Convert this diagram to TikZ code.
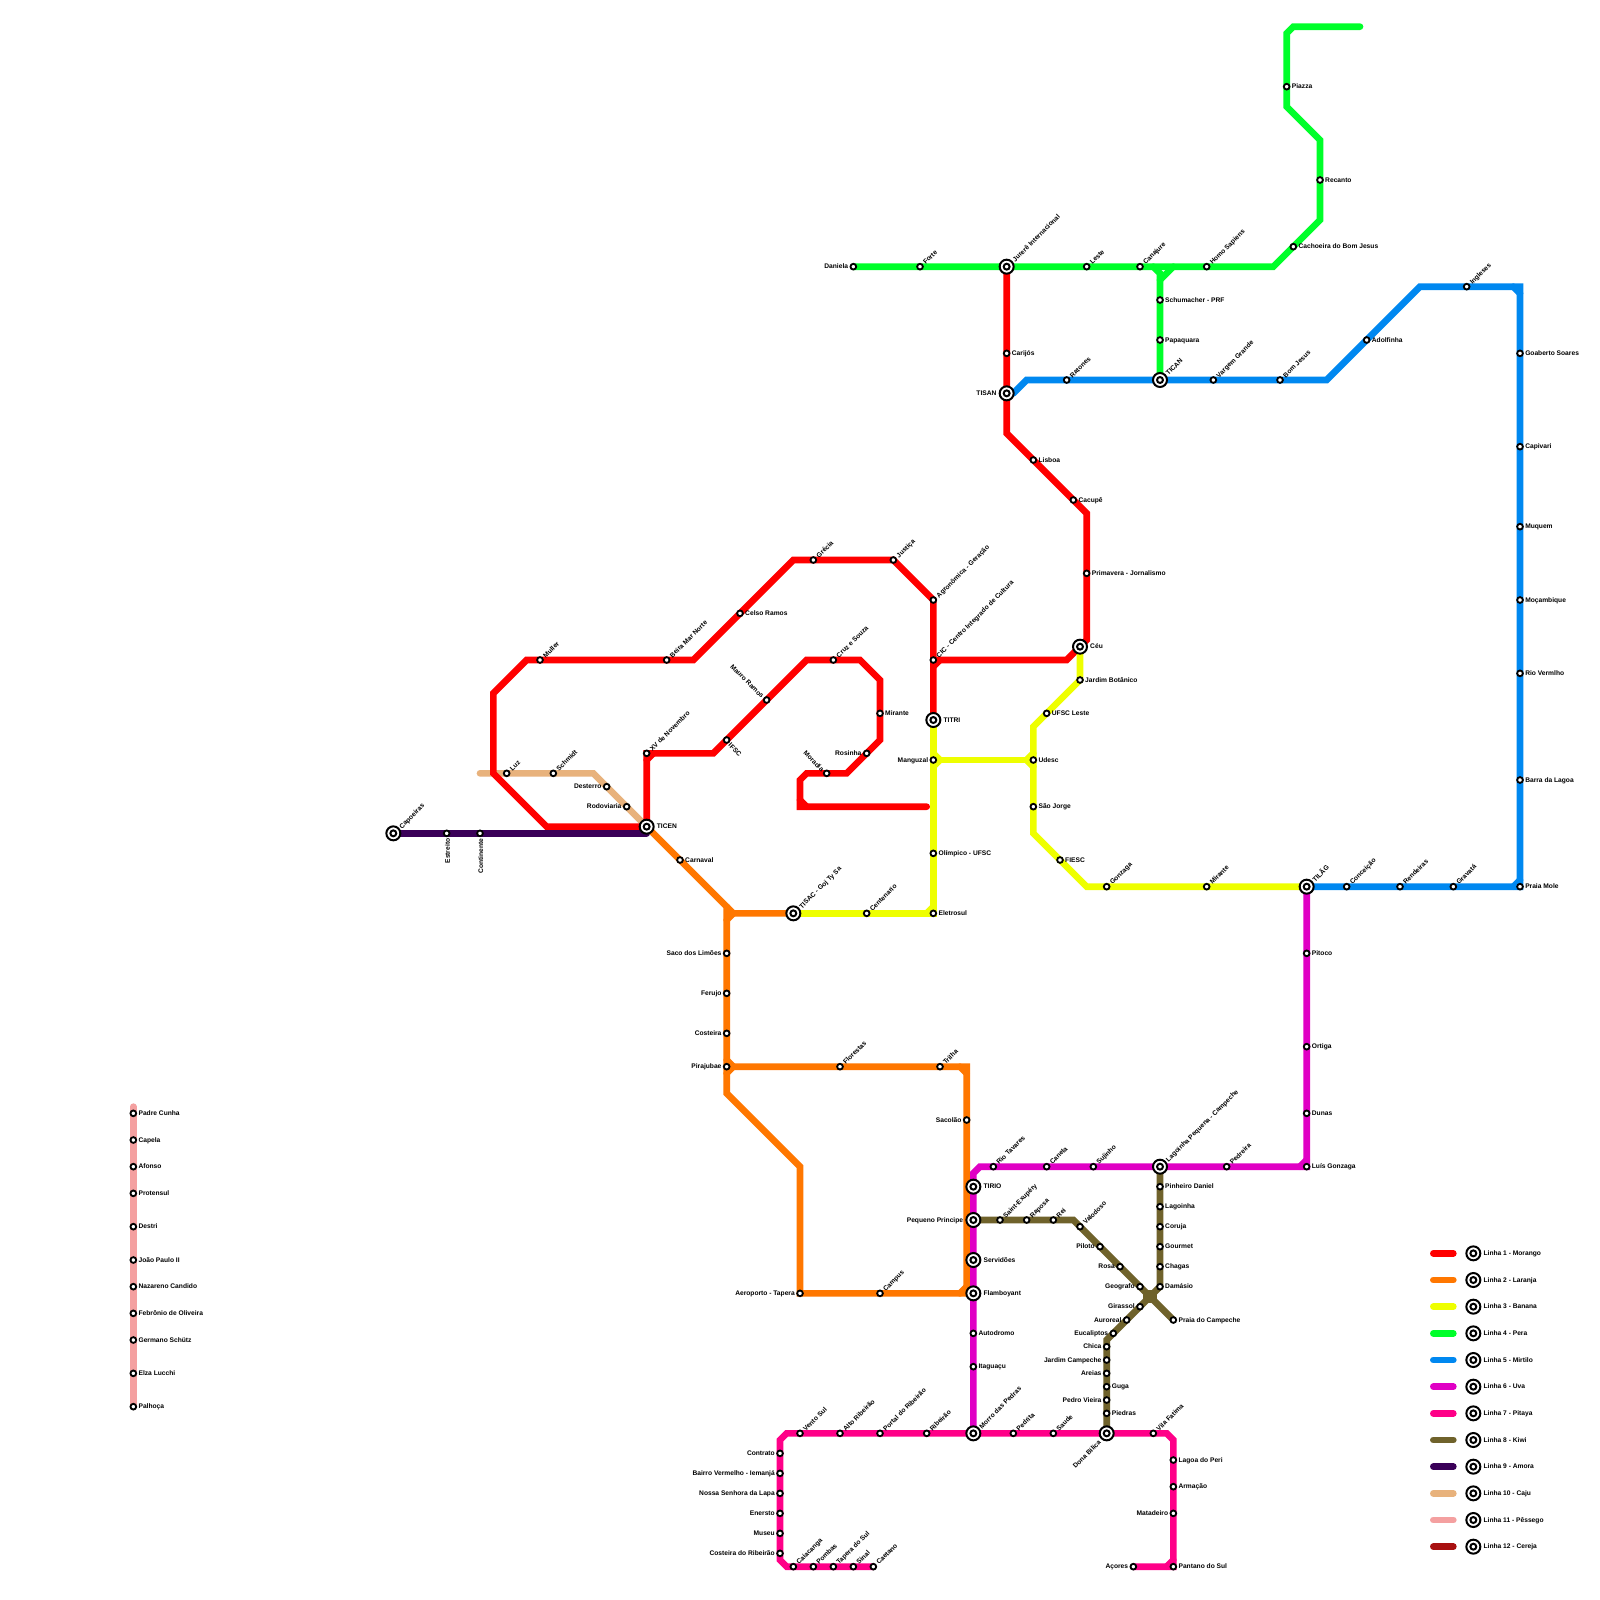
\documentclass[tikz,border=0pt]{standalone}
\usepackage{fontspec}
\setmainfont{Liberation Sans}
\usetikzlibrary{backgrounds}
\definecolor{cRed}{HTML}{FF0000}
\definecolor{cOrange}{HTML}{FF7700}
\definecolor{cYellow}{HTML}{EEFF00}
\definecolor{cGreen}{HTML}{00FF2A}
\definecolor{cBlue}{HTML}{0088F0}
\definecolor{cMag}{HTML}{E000C4}
\definecolor{cPink}{HTML}{FF0088}
\definecolor{cKiwi}{HTML}{6F622B}
\definecolor{cAmora}{HTML}{3A0058}
\definecolor{cCaju}{HTML}{E8B27C}
\definecolor{cPess}{HTML}{F4A0A0}
\definecolor{cCer}{HTML}{A81010}
\tikzset{
  metro/.style={line width=0.2cm,line cap=round,line join=miter},
  stnode/.style={circle,draw=black,fill=white,line width=0.055cm,minimum size=0.172cm,inner sep=0pt},
  hubouter/.style={circle,draw=black,fill=white,line width=0.06cm,minimum size=0.42cm,inner sep=0pt},
  hubinner/.style={circle,draw=black,fill=white,line width=0.06cm,minimum size=0.178cm,inner sep=0pt},
  lab/.style={inner sep=0pt,font=\fontsize{5.69}{6}\selectfont\bfseries,text=black},
  R/.style={xshift=0.15cm,yshift=0.03cm,anchor=mid west},
  L/.style={xshift=-0.15cm,yshift=0.03cm,anchor=mid east},
  NE/.style={xshift=0.105cm,yshift=0.115cm,rotate=45,anchor=mid west},
  NW/.style={xshift=-0.095cm,yshift=0.105cm,rotate=-45,anchor=mid east},
  SE/.style={xshift=0.105cm,yshift=-0.105cm,rotate=-45,anchor=mid west},
  S/.style={yshift=-0.15cm,rotate=90,anchor=mid east},
  HR/.style={xshift=0.3cm,yshift=0.03cm,anchor=mid west},
  HL/.style={xshift=-0.3cm,yshift=0.03cm,anchor=mid east},
  HNE/.style={xshift=0.19cm,yshift=0.19cm,rotate=45,anchor=mid west},
  HSW/.style={xshift=-0.22cm,yshift=-0.22cm,rotate=45,anchor=mid east}
}
\newcommand{\stn}[5]{\node[stnode] (#1) at (#2,#3) {};\node[lab,#4] (#1-t) at (#2,#3) {#5};}
\newcommand{\hub}[5]{\node[hubouter] (#1) at (#2,#3) {};\node[hubinner] (#1-i) at (#2,#3) {};\node[lab,#4] (#1-t) at (#2,#3) {#5};}
\newcommand{\crn}[3]{\coordinate (#1) at (#2,#3);}
\begin{document}
\begin{tikzpicture}[x=0.2cm,y=-0.2cm]
\useasboundingbox (0,0) rectangle (240,240);
% hubs
\hub{jur}{151}{40}{HNE}{Jurerê Internacional}
\hub{tisan}{151}{59}{HL}{TISAN}
\hub{tican}{174}{57}{HNE}{TICAN}
\hub{ceu}{162}{97}{HR}{Céu}
\hub{titri}{140}{108}{HR}{TITRI}
\hub{ticen}{97}{124}{HR}{TICEN}
\hub{cap}{59}{125}{HNE}{Capoeiras}
\hub{tisac}{119}{137}{HNE}{TISAC - Goj Ty Sa}
\hub{tilag}{196}{133}{HNE}{TILÃG}
\hub{lagp}{174}{175}{HNE}{Lagoinha Pequena - Campeche}
\hub{tirio}{146}{178}{HR}{TIRIO}
\hub{pequ}{146}{183}{HL}{Pequeno Principe}
\hub{serv}{146}{189}{HR}{Servidões}
\hub{flam}{146}{194}{HR}{Flamboyant}
\hub{morro}{146}{215}{HNE}{Morro das Pedras}
\hub{dona}{166}{215}{HSW}{Dona Bilica}
% line 4
\stn{dan}{128}{40}{L}{Daniela}
\stn{forte}{138}{40}{NE}{Forte}
\stn{leste}{163}{40}{NE}{Leste}
\stn{cana}{171}{40}{NE}{Canajure}
\stn{homo}{181}{40}{NE}{Homo Sapiens}
\stn{cach}{194}{37}{R}{Cachoeira do Bom Jesus}
\stn{reca}{198}{27}{R}{Recanto}
\stn{piaz}{193}{13}{R}{Piazza}
\stn{schu}{174}{45}{R}{Schumacher - PRF}
\stn{papa}{174}{51}{R}{Papaquara}
% line 1
\stn{cari}{151}{53}{R}{Carijós}
\stn{lisb}{155}{69}{R}{Lisboa}
\stn{cacu}{161}{75}{R}{Cacupê}
\stn{prim}{163}{86}{R}{Primavera - Jornalismo}
\stn{cic}{140}{99}{NE}{CIC - Centro Integrado de Cultura}
\stn{agro}{140}{90}{NE}{Agronômica - Geração}
\stn{just}{134}{84}{NE}{Justiça}
\stn{grec}{122}{84}{NE}{Grécia}
\stn{cels}{111}{92}{R}{Celso Ramos}
\stn{beir}{100}{99}{NE}{Beira Mar Norte}
\stn{mull}{81}{99}{NE}{Muller}
\stn{xv}{97}{113}{NE}{XV de Novembro}
\stn{ifsc}{109}{111}{SE}{IFSC}
\stn{maur}{115}{105}{NW}{Mauro Ramos}
\stn{cruz}{125}{99}{NE}{Cruz e Souza}
\stn{mira}{132}{107}{R}{Mirante}
\stn{rosi}{130}{113}{L}{Rosinha}
\stn{mora}{124}{116}{NW}{Moradia}
% line 3
\stn{mang}{140}{114}{L}{Manguzal}
\stn{olim}{140}{128}{R}{Olímpico - UFSC}
\stn{elet}{140}{137}{R}{Eletrosul}
\stn{cent}{130}{137}{NE}{Centenario}
\stn{udes}{155}{114}{R}{Udesc}
\stn{ufsc}{157}{107}{R}{UFSC Leste}
\stn{jard}{162}{102}{R}{Jardim Botânico}
\stn{sajo}{155}{121}{R}{São Jorge}
\stn{fies}{159}{129}{R}{FIESC}
\stn{gonz}{166}{133}{NE}{Gonzaga}
\stn{mirb}{181}{133}{NE}{Mirante}
% line 5
\stn{rato}{160}{57}{NE}{Ratones}
\stn{varg}{182}{57}{NE}{Vargem Grande}
\stn{bomj}{192}{57}{NE}{Bom Jesus}
\stn{adol}{205}{51}{R}{Adolfinha}
\stn{ingl}{220}{43}{NE}{Ingleses}
\stn{goab}{228}{53}{R}{Goaberto Soares}
\stn{capi}{228}{67}{R}{Capivari}
\stn{muqu}{228}{79}{R}{Muquem}
\stn{moca}{228}{90}{R}{Moçambique}
\stn{riov}{228}{101}{R}{Rio Vermlho}
\stn{barr}{228}{117}{R}{Barra da Lagoa}
\stn{prai}{228}{133}{R}{Praia Mole}
\stn{grav}{218}{133}{NE}{Gravatá}
\stn{rend}{210}{133}{NE}{Rendeiras}
\stn{conc}{202}{133}{NE}{Conceição}
% line 2
\stn{carn}{102}{129}{R}{Carnaval}
\stn{saco}{109}{143}{L}{Saco dos Limões}
\stn{feru}{109}{149}{L}{Ferujo}
\stn{cost}{109}{155}{L}{Costeira}
\stn{pira}{109}{160}{L}{Pirajubae}
\stn{flor}{126}{160}{NE}{Florestas}
\stn{tril}{141}{160}{NE}{Trilha}
\stn{saco2}{145}{168}{L}{Sacolão}
\stn{aero}{120}{194}{L}{Aeroporto - Tapera}
\stn{camp}{132}{194}{NE}{Campus}
% line 6
\stn{pito}{196}{143}{R}{Pitoco}
\stn{orti}{196}{157}{R}{Ortiga}
\stn{duna}{196}{167}{R}{Dunas}
\stn{luis}{196}{175}{R}{Luís Gonzaga}
\stn{pedr}{184}{175}{NE}{Pedreira}
\stn{suji}{164}{175}{NE}{Sujinho}
\stn{cane}{157}{175}{NE}{Canela}
\stn{riot}{149}{175}{NE}{Rio Tavares}
\stn{auto}{146}{200}{R}{Autodromo}
\stn{itag}{146}{205}{R}{Itaguaçu}
% line 8
\stn{sain}{150}{183}{NE}{Saint-Exupéry}
\stn{rapo}{154}{183}{NE}{Raposa}
\stn{rei}{158}{183}{NE}{Rei}
\stn{valo}{162}{184}{NE}{Valodoso}
\stn{pilo}{165}{187}{L}{Piloto}
\stn{rosa}{168}{190}{L}{Rosa}
\stn{geog}{171}{193}{L}{Geografo}
\stn{praic}{176}{198}{R}{Praia do Campeche}
\stn{gira}{171}{196}{L}{Girassol}
\stn{auro}{169}{198}{L}{Auroreal}
\stn{euca}{167}{200}{L}{Eucaliptos}
\stn{chic}{166}{202}{L}{Chica}
\stn{jcam}{166}{204}{L}{Jardim Campeche}
\stn{arei}{166}{206}{L}{Areias}
\stn{guga}{166}{208}{R}{Guga}
\stn{pvie}{166}{210}{L}{Pedro Vieira}
\stn{pied}{166}{212}{R}{Piedras}
\stn{pinh}{174}{178}{R}{Pinheiro Daniel}
\stn{lago}{174}{181}{R}{Lagoinha}
\stn{coru}{174}{184}{R}{Coruja}
\stn{gour}{174}{187}{R}{Gourmet}
\stn{chag}{174}{190}{R}{Chagas}
\stn{dama}{174}{193}{R}{Damásio}
% line 7
\stn{vent}{120}{215}{NE}{Vento Sul}
\stn{alto}{126}{215}{NE}{Alto Ribeirão}
\stn{port}{132}{215}{NE}{Portal do Ribeirão}
\stn{ribe}{139}{215}{NE}{Ribeirão}
\stn{pedi}{152}{215}{NE}{Pedrita}
\stn{saud}{158}{215}{NE}{Saude}
\stn{vila}{173}{215}{NE}{Vila Fatima}
\stn{peri}{176}{219}{R}{Lagoa do Peri}
\stn{arma}{176}{223}{R}{Armação}
\stn{mata}{176}{227}{L}{Matadeiro}
\stn{pant}{176}{235}{R}{Pantano do Sul}
\stn{acor}{170}{235}{L}{Açores}
\stn{cont}{117}{218}{L}{Contrato}
\stn{bair}{117}{221}{L}{Bairro Vermelho - Iemanjá}
\stn{noss}{117}{224}{L}{Nossa Senhora da Lapa}
\stn{ener}{117}{227}{L}{Enersto}
\stn{muse}{117}{230}{L}{Museu}
\stn{cori}{117}{233}{L}{Costeira do Ribeirão}
\stn{caia}{119}{235}{NE}{Caiacanga}
\stn{pomb}{122}{235}{NE}{Pombas}
\stn{tape}{125}{235}{NE}{Tapera do Sul}
\stn{sina}{128}{235}{NE}{Sinal}
\stn{caet}{131}{235}{NE}{Caetano}
% line 9
\stn{estr}{67}{125}{S}{Estreito}
\stn{cont2}{72}{125}{S}{Continente}
% line 10
\stn{luz}{76}{116}{NE}{Luz}
\stn{schm}{83}{116}{NE}{Schmidt}
\stn{dest}{91}{118}{L}{Desterro}
\stn{rodo}{94}{121}{L}{Rodoviaria}
% line 11
\stn{padr}{20}{167}{R}{Padre Cunha}
\stn{cape}{20}{171}{R}{Capela}
\stn{afon}{20}{175}{R}{Afonso}
\stn{prot}{20}{179}{R}{Protensul}
\stn{dest2}{20}{184}{R}{Destri}
\stn{joao}{20}{189}{R}{João Paulo II}
\stn{naza}{20}{193}{R}{Nazareno Candido}
\stn{febr}{20}{197}{R}{Febrônio de Oliveira}
\stn{germ}{20}{201}{R}{Germano Schütz}
\stn{elza}{20}{206}{R}{Elza Lucchi}
\stn{palh}{20}{211}{R}{Palhoça}
% legend hubs
\foreach \i/\y/\t in {1/188/Linha 1 - Morango,2/192/Linha 2 - Laranja,3/196/Linha 3 - Banana,4/200/Linha 4 - Pera,5/204/Linha 5 - Mirtilo,6/208/Linha 6 - Uva,7/212/Linha 7 - Pitaya,8/216/Linha 8 - Kiwi,9/220/Linha 9 - Amora,10/224/Linha 10 - Caju,11/228/Linha 11 - Pêssego,12/232/Linha 12 - Cereja}{
  \hub{leg\i}{221}{\y}{HR}{\t}
  \coordinate (la\i) at (215,\y);
  \coordinate (lb\i) at (218,\y);
}
% corners
\crn{gA}{191}{40}\crn{gB}{198}{33}\crn{gC}{198}{21}\crn{gD}{193}{16}\crn{gE}{193}{5}\crn{gF}{194}{4}\crn{gG}{204}{4}
\crn{gH}{173}{40}\crn{gI}{176}{40}\crn{gJ}{174}{42}\crn{gK}{174}{41}
\crn{rA}{151}{65}\crn{rB}{163}{77}\crn{rC}{163}{96}\crn{rD}{160}{99}\crn{rE}{141}{99}\crn{rF}{140}{100}
\crn{rG}{119}{84}\crn{rH}{104}{99}\crn{rI}{79}{99}\crn{rJ}{74}{104}\crn{rK}{74}{116}\crn{rL}{82}{124}
\crn{rM}{97}{114}\crn{rN}{98}{113}\crn{rO}{107}{113}\crn{rP}{121}{99}\crn{rQ}{129}{99}\crn{rR}{132}{102}\crn{rS}{132}{111}
\crn{rT}{127}{116}\crn{rU}{121}{116}\crn{rV}{120}{117}\crn{rW}{120}{120}\crn{rX}{121}{121}\crn{rY}{120}{121}\crn{rZ}{139}{121}
\crn{yA}{140}{136}\crn{yB}{139}{137}\crn{yC}{140}{113}\crn{yD}{141}{114}\crn{yE}{140}{115}\crn{yF}{154}{114}\crn{yG}{155}{113}\crn{yH}{155}{115}
\crn{yI}{155}{109}\crn{yJ}{155}{125}\crn{yK}{163}{133}
\crn{bZ}{152}{59}\crn{bA}{154}{57}\crn{bB}{199}{57}\crn{bC}{213}{43}\crn{bD}{227}{43}\crn{bE}{228}{44}\crn{bF}{228}{43}\crn{bG}{228}{132}\crn{bH}{227}{133}
\crn{oA}{109}{136}\crn{oB}{110}{137}\crn{oC}{109}{138}\crn{oD}{109}{159}\crn{oE}{110}{160}\crn{oF}{109}{161}\crn{oG}{109}{164}\crn{oH}{120}{175}
\crn{oI}{144}{194}\crn{oJ}{145}{193}\crn{oN}{145}{194}\crn{oK}{145}{161}\crn{oL}{144}{160}\crn{oM}{145}{160}
\crn{mA}{147}{175}\crn{mB}{146}{176}\crn{mC}{195}{175}\crn{mD}{196}{174}
\crn{kA}{161}{183}\crn{kB}{172.5}{194.5}\crn{kC}{166}{201}\crn{kD}{172}{194}\crn{kE}{173}{194}\crn{kF}{173}{195}\crn{kG}{172}{195}
\crn{pA}{118}{215}\crn{pB}{117}{216}\crn{pC}{117}{234}\crn{pD}{118}{235}\crn{pE}{175}{215}\crn{pF}{176}{216}\crn{pG}{176}{234}\crn{pH}{175}{235}
\crn{aA}{97}{125}\crn{cA}{72}{116}\crn{cB}{89}{116}\crn{sA}{20}{166}
\begin{scope}[on background layer]
\fill[white] (0,0) rectangle (240,240);
% caju and pessego
\draw[metro,cCaju] (cA)--(luz.center)--(schm.center)--(cB)--(dest.center)--(rodo.center)--(ticen.center);
\draw[metro,cPess] (sA)--(padr.center)--(palh.center);
% line 1
\draw[metro,cRed] (jur.center)--(cari.center)--(tisan.center)--(rA)--(lisb.center)--(cacu.center)--(rB)--(prim.center)--(rC)--(ceu.center)--(rD)--(cic.center);
\draw[metro,cRed] (rE)--(rF);
\draw[metro,cRed] (titri.center)--(cic.center)--(agro.center)--(just.center)--(grec.center)--(rG)--(cels.center)--(rH)--(beir.center)--(mull.center)--(rI)--(rJ)--(rK)--(rL)--(ticen.center)--(xv.center)--(rO)--(ifsc.center)--(maur.center)--(rP)--(cruz.center)--(rQ)--(rR)--(mira.center)--(rS)--(rosi.center)--(rT)--(mora.center)--(rU)--(rV)--(rY)--(rZ);
\draw[metro,cRed] (rM)--(rN);
\draw[metro,cRed] (rW)--(rX);
% line 2
\draw[metro,cOrange] (ticen.center)--(carn.center)--(oA)--(pira.center)--(oG)--(oH)--(aero.center)--(camp.center)--(oN)--(saco2.center)--(oM)--(tril.center)--(flor.center)--(pira.center);
\draw[metro,cOrange] (oI)--(oJ);
\draw[metro,cOrange] (oL)--(oK);
\draw[metro,cOrange] (oA)--(oB)--(tisac.center);
\draw[metro,cOrange] (oB)--(oC);
\draw[metro,cOrange] (oD)--(oE);
\draw[metro,cOrange] (oF)--(oE);
% line 3
\draw[metro,cYellow] (tisac.center)--(cent.center)--(elet.center)--(olim.center)--(mang.center)--(titri.center);
\draw[metro,cYellow] (yA)--(yB);
\draw[metro,cYellow] (yC)--(yD)--(yE);
\draw[metro,cYellow] (mang.center)--(udes.center);
\draw[metro,cYellow] (yG)--(yF)--(yH);
\draw[metro,cYellow] (ceu.center)--(jard.center)--(ufsc.center)--(yI)--(udes.center)--(sajo.center)--(yJ)--(fies.center)--(yK)--(gonz.center)--(mirb.center)--(tilag.center);
% line 4
\draw[metro,cGreen] (dan.center)--(forte.center)--(jur.center)--(leste.center)--(cana.center)--(homo.center)--(gA)--(cach.center)--(gB)--(reca.center)--(gC)--(gD)--(piaz.center)--(gE)--(gF)--(gG);
\draw[metro,cGreen] (tican.center)--(papa.center)--(schu.center)--(gK)--(gH);
\draw[metro,cGreen] (gJ)--(gI);
% line 5
\draw[metro,cBlue] (bZ)--(bA)--(rato.center)--(tican.center)--(varg.center)--(bomj.center)--(bB)--(adol.center)--(bC)--(ingl.center)--(bF)--(goab.center)--(capi.center)--(muqu.center)--(moca.center)--(riov.center)--(barr.center)--(prai.center)--(grav.center)--(rend.center)--(conc.center)--(tilag.center);
\draw[metro,cBlue] (bD)--(bE);
\draw[metro,cBlue] (bG)--(bH);
% line 6
\draw[metro,cMag] (tilag.center)--(pito.center)--(orti.center)--(duna.center)--(luis.center)--(pedr.center)--(lagp.center)--(suji.center)--(cane.center)--(riot.center)--(mA)--(mB)--(tirio.center)--(pequ.center)--(serv.center)--(flam.center)--(auto.center)--(itag.center)--(morro.center);
\draw[metro,cMag] (mD)--(mC);
% line 8
\draw[metro,cKiwi] (pequ.center)--(sain.center)--(rapo.center)--(rei.center)--(kA)--(valo.center)--(pilo.center)--(rosa.center)--(geog.center)--(kB)--(praic.center);
\draw[metro,cKiwi] (lagp.center)--(pinh.center)--(lago.center)--(coru.center)--(gour.center)--(chag.center)--(dama.center)--(kB)--(gira.center)--(auro.center)--(euca.center)--(kC)--(chic.center)--(jcam.center)--(arei.center)--(guga.center)--(pvie.center)--(pied.center)--(dona.center);
\draw[metro,cKiwi] (kD)--(kE)--(kF)--(kG)--cycle;
% line 7
\draw[metro,cPink] (caet.center)--(sina.center)--(tape.center)--(pomb.center)--(caia.center)--(pD)--(pC)--(cori.center)--(muse.center)--(ener.center)--(noss.center)--(bair.center)--(cont.center)--(pB)--(pA)--(vent.center)--(alto.center)--(port.center)--(ribe.center)--(morro.center)--(pedi.center)--(saud.center)--(dona.center)--(vila.center)--(pE)--(pF)--(peri.center)--(arma.center)--(mata.center)--(pant.center)--(acor.center);
\draw[metro,cPink] (pG)--(pH);
% line 9
\draw[metro,cAmora] (cap.center)--(estr.center)--(cont2.center)--(aA);
% legend
\draw[metro,cRed] (la1)--(lb1);
\draw[metro,cOrange] (la2)--(lb2);
\draw[metro,cYellow] (la3)--(lb3);
\draw[metro,cGreen] (la4)--(lb4);
\draw[metro,cBlue] (la5)--(lb5);
\draw[metro,cMag] (la6)--(lb6);
\draw[metro,cPink] (la7)--(lb7);
\draw[metro,cKiwi] (la8)--(lb8);
\draw[metro,cAmora] (la9)--(lb9);
\draw[metro,cCaju] (la10)--(lb10);
\draw[metro,cPess] (la11)--(lb11);
\draw[metro,cCer] (la12)--(lb12);
\end{scope}
\end{tikzpicture}
\end{document}
